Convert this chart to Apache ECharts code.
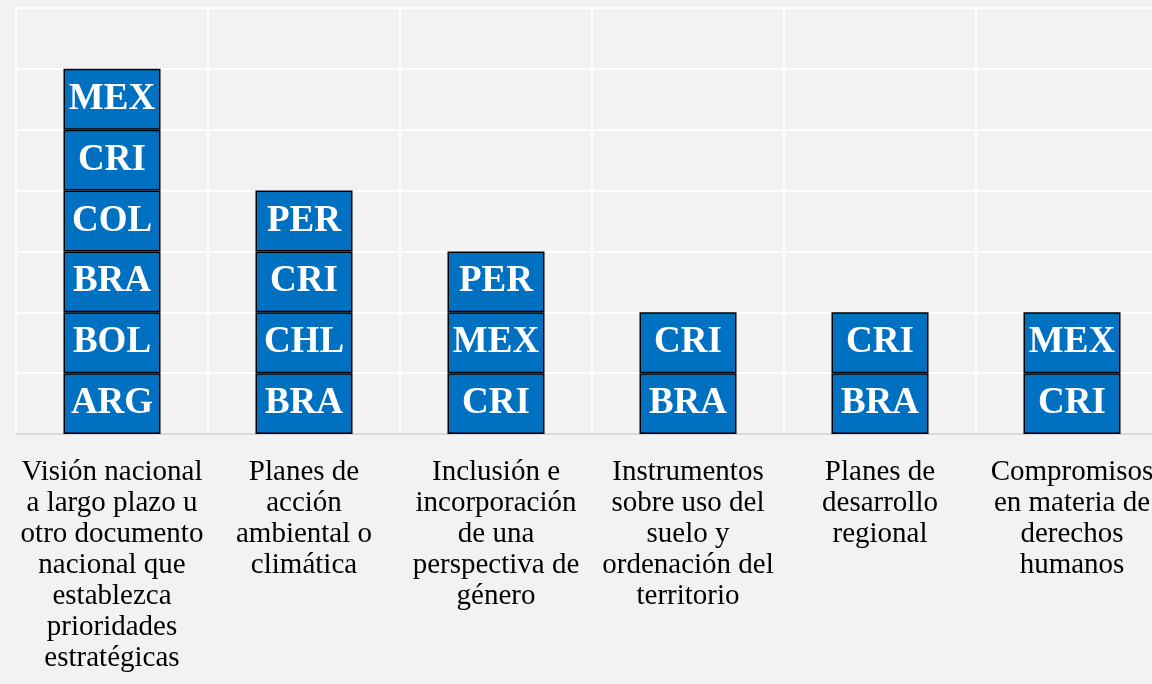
<!DOCTYPE html>
<html>
<head>
<meta charset="utf-8">
<style>
  html, body { margin: 0; padding: 0; background: #f2f2f2; }
  #chart { width: 1152px; height: 684px; }
</style>
<script src="https://cdn.jsdelivr.net/npm/echarts@6/dist/echarts.min.js"></script>
</head>
<body>
<div id="chart"></div>
<script>
// categorías (con saltos de línea como en el original)
var categories = [
    'Visión nacional\na largo plazo u\notro documento\nnacional que\nestablezca\nprioridades\nestratégicas',
    'Planes de\nacción\nambiental o\nclimática',
    'Inclusión e\nincorporación\nde una\nperspectiva de\ngénero',
    'Instrumentos\nsobre uso del\nsuelo y\nordenación del\nterritorio',
    'Planes de\ndesarrollo\nregional',
    'Compromisos\nen materia de\nderechos\nhumanos'
];

// países de abajo hacia arriba en cada columna
var countries1 = ['ARG', 'BOL', 'BRA', 'COL', 'CRI', 'MEX'];
var countries2 = ['BRA', 'CHL', 'CRI', 'PER'];
var countries3 = ['CRI', 'MEX', 'PER'];
var countries4 = ['BRA', 'CRI'];
var countries5 = ['BRA', 'CRI'];
var countries6 = ['CRI', 'MEX'];
var stacks = [countries1, countries2, countries3, countries4, countries5, countries6];

var yTicks = [0, 1, 2, 3, 4, 5, 6, 7];

var chart = echarts.init(document.getElementById('chart'));

// una serie por nivel del apilado
var levels = 0;
stacks.forEach(function (s) { levels = Math.max(levels, s.length); });
var series = [];
for (var i = 0; i < levels; i++) {
    series.push({
        type: 'bar',
        stack: 'total',
        barWidth: 97,
        data: stacks.map(function (s) {
            return i < s.length ? { value: 1, name: s[i] } : '-';
        }),
        itemStyle: { color: '#0070c0', borderColor: '#000', borderWidth: 1.5 },
        label: {
            show: true,
            position: 'inside',
            formatter: function (p) { return p.name; },
            color: '#fff',
            fontFamily: 'Liberation Serif',
            fontWeight: 'bold',
            fontSize: 37
        },
        emphasis: { disabled: true }
    });
}

var option = {
    backgroundColor: '#f2f2f2',
    animation: false,
    // la última columna queda cortada por el borde derecho, como en el original
    grid: { left: 16, right: -16, top: 8, bottom: 250, containLabel: false, outerBoundsMode: 'none' },
    xAxis: {
        type: 'category',
        data: categories,
        axisLine: { lineStyle: { color: '#d9d9d9', width: 2 } },
        axisTick: { show: false },
        splitLine: { show: true, lineStyle: { color: '#fff', width: 2 } },
        axisLabel: {
            interval: 0,
            margin: 23,
            color: '#000',
            fontFamily: 'Liberation Serif',
            fontSize: 29,
            lineHeight: 31
        }
    },
    yAxis: {
        type: 'value',
        min: yTicks[0],
        max: yTicks[yTicks.length - 1],
        interval: 1,
        axisLabel: { show: false },
        axisLine: { show: false },
        axisTick: { show: false },
        splitLine: { lineStyle: { color: '#fff', width: 2 } }
    },
    series: series
};

chart.setOption(option);
</script>
</body>
</html>
